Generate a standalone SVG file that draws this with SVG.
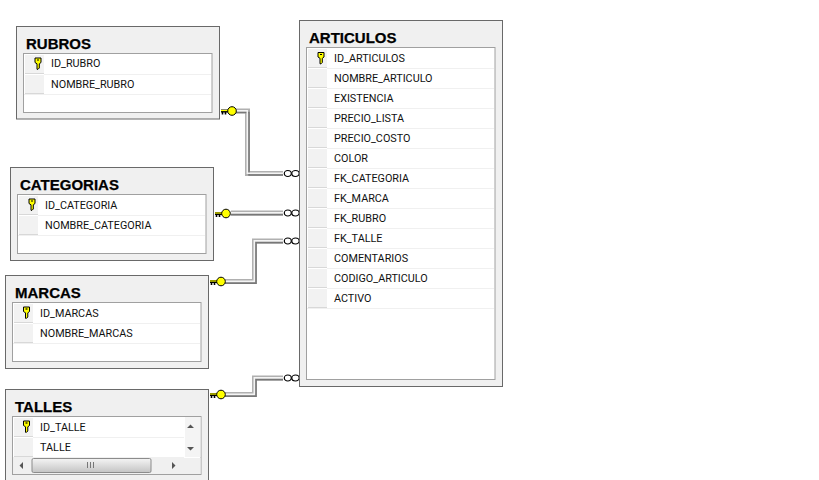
<svg xmlns="http://www.w3.org/2000/svg" width="819" height="480" viewBox="0 0 819 480">
<style>
.o{fill:#f0f0f0;stroke:#696969;stroke-width:1}
.i{fill:#fff;stroke:#a0a0a0;stroke-width:1}
.t{font:bold 15px "Liberation Sans",Arial,sans-serif;fill:#000;stroke:#000;stroke-width:.25}
.f{font:10.8px Roboto,"Liberation Sans",Arial,sans-serif;fill:#111}
.s{fill:#f2f2f2}
.sl{stroke:#d8d8d8;stroke-width:1;fill:none}
.r{stroke:#f0f0f0;stroke-width:1;fill:none}
.c1{fill:none;stroke:#b0b0b0;stroke-width:5}
.c2{fill:none;stroke:#f4f4f4;stroke-width:1.500}
.c3{fill:none;stroke:#777;stroke-width:1.500}
.ar{fill:#555}
</style>
<defs>
<g id="pk"><path d="M-3-5h6v4.500l-1.700 1.300v4.200l-1.300 1.300h-1v-5.500l-2-1.300z" fill="#ff0" stroke="#000" stroke-width="1"/><path d="M-1-3h2" stroke="#000" stroke-width="1.200"/></g>
<g id="key"><path d="M-11 0L-4 0" stroke="#000" stroke-width="3"/><path d="M-9.500 1v2.500M-6.500 1v2.500" stroke="#000" stroke-width="1.600"/><path d="M-11-.5L-4-.5" stroke="#ff0" stroke-width="1.200"/><circle cx="0" cy="0" r="4.300" fill="#ff0" stroke="#000" stroke-width="1"/></g>
<g id="inf"><ellipse cx="3.800" cy="0" rx="3.500" ry="3" fill="#fff" stroke="#000" stroke-width="1.200"/><ellipse cx="11.500" cy="0" rx="3.700" ry="3" fill="#fff" stroke="#000" stroke-width="1.200"/></g>
<g id="cell"><rect x="0" y="0" width="19" height="18.500" class="s"/><path d="M0 18.500h19" class="sl"/></g>
<linearGradient id="th" x1="0" y1="0" x2="0" y2="1"><stop offset="0" stop-color="#f4f4f4"/><stop offset=".5" stop-color="#dcdcdc"/><stop offset="1" stop-color="#c4c4c4"/></linearGradient>
</defs>
<rect width="819" height="480" fill="#fff"/>
<g id="connectors">
<path class="c1" d="M236 111H247.500V173.500H283"/><path class="c3" d="M236 112.500H249V175H283"/><path class="c2" d="M236 110.800H247.300V173.200H283"/>
<path class="c1" d="M231 213H283"/><path class="c3" d="M231 214.800H283"/><path class="c2" d="M231 212.800H283"/>
<path class="c1" d="M225 281.500H254.500V241H283"/><path class="c3" d="M225 283.200H256V242.800H283"/><path class="c2" d="M225 281.300H254.300V240.800H283"/>
<path class="c1" d="M225 394.500H254.500V378H283"/><path class="c3" d="M225 396.200H256V379.800H283"/><path class="c2" d="M225 394.300H254.300V377.800H283"/>
<use href="#key" x="232" y="111"/><use href="#key" x="226" y="213.500"/><use href="#key" x="221" y="281.500"/><use href="#key" x="221" y="394.500"/>
<use href="#inf" x="284" y="173.500"/><use href="#inf" x="284" y="213"/><use href="#inf" x="284" y="241"/><use href="#inf" x="284" y="378"/>
</g>
<g id="rubros">
<rect class="o" x="16.500" y="26.500" width="203" height="92.500"/><rect class="i" x="23.500" y="53.500" width="188.500" height="59"/>
<use href="#cell" x="25" y="55"/><use href="#cell" x="25" y="75"/><path class="r" d="M44 74.500H211M24 94.500H211"/>
<use href="#pk" x="38" y="63"/>
<text class="t" x="26" y="49">RUBROS</text><text class="f" x="51" y="67">ID_RUBRO</text><text class="f" x="51" y="88">NOMBRE_RUBRO</text>
</g>
<g id="categorias">
<rect class="o" x="10.500" y="167.500" width="203" height="93"/><rect class="i" x="17.500" y="194.500" width="188.500" height="59"/>
<use href="#cell" x="19" y="196"/><use href="#cell" x="19" y="216"/><path class="r" d="M38 215.500H205M18 235.500H205"/>
<use href="#pk" x="32" y="204"/>
<text class="t" x="20" y="190">CATEGORIAS</text><text class="f" x="45" y="209">ID_CATEGORIA</text><text class="f" x="45" y="229">NOMBRE_CATEGORIA</text>
</g>
<g id="marcas">
<rect class="o" x="5.500" y="275.500" width="203" height="93"/><rect class="i" x="12.500" y="302.500" width="188.500" height="59"/>
<use href="#cell" x="14" y="304"/><use href="#cell" x="14" y="324"/><path class="r" d="M33 323.500H200M13 343.500H200"/>
<use href="#pk" x="26.500" y="312"/>
<text class="t" x="15" y="298">MARCAS</text><text class="f" x="40" y="317">ID_MARCAS</text><text class="f" x="40" y="337">NOMBRE_MARCAS</text>
</g>
<g id="talles">
<rect class="o" x="5.500" y="389.500" width="203" height="95"/><rect class="i" x="12.500" y="416.500" width="188.500" height="58"/>
<use href="#cell" x="14" y="418"/><use href="#cell" x="14" y="438"/><path class="r" d="M33 437.500H184M13 457.500H184"/>
<rect x="185" y="417" width="15.500" height="40" fill="#f4f4f4"/><rect x="13" y="458" width="187.500" height="16" fill="#f0f0f0"/>
<path class="ar" d="M187 428h7l-3.500-3.500zM187 447h7l-3.500 3.500zM23 462v7l-3.500-3.500zM172 462v7l3.500-3.500z"/>
<rect x="32" y="458.500" width="119" height="14" rx="1.500" fill="url(#th)" stroke="#8c8c8c"/>
<path d="M87.500 462v6M90.500 462v6M93.500 462v6" stroke="#777"/>
<use href="#pk" x="26.500" y="426"/>
<text class="t" x="15" y="412">TALLES</text><text class="f" x="40" y="431">ID_TALLE</text><text class="f" x="40" y="451">TALLE</text>
</g>
<g id="articulos">
<rect class="o" x="299.500" y="20.500" width="203" height="366"/><rect class="i" x="306.500" y="47.500" width="188.500" height="332"/>
<use href="#cell" x="308" y="49"/><use href="#cell" x="308" y="69"/><use href="#cell" x="308" y="89"/><use href="#cell" x="308" y="109"/><use href="#cell" x="308" y="129"/><use href="#cell" x="308" y="149"/><use href="#cell" x="308" y="169"/><use href="#cell" x="308" y="189"/><use href="#cell" x="308" y="209"/><use href="#cell" x="308" y="229"/><use href="#cell" x="308" y="249"/><use href="#cell" x="308" y="269"/><use href="#cell" x="308" y="289"/>
<path class="r" d="M327 68.500H494M327 88.500H494M327 108.500H494M327 128.500H494M327 148.500H494M327 168.500H494M327 188.500H494M327 208.500H494M327 228.500H494M327 248.500H494M327 268.500H494M327 288.500H494M307 308.500H494"/>
<use href="#pk" x="321" y="57.500"/>
<text class="t" x="309" y="43">ARTICULOS</text>
<text class="f" x="334" y="62">ID_ARTICULOS</text><text class="f" x="334" y="82">NOMBRE_ARTICULO</text><text class="f" x="334" y="102">EXISTENCIA</text><text class="f" x="334" y="122">PRECIO_LISTA</text><text class="f" x="334" y="142">PRECIO_COSTO</text><text class="f" x="334" y="162">COLOR</text><text class="f" x="334" y="182">FK_CATEGORIA</text><text class="f" x="334" y="202">FK_MARCA</text><text class="f" x="334" y="222">FK_RUBRO</text><text class="f" x="334" y="242">FK_TALLE</text><text class="f" x="334" y="262">COMENTARIOS</text><text class="f" x="334" y="282">CODIGO_ARTICULO</text><text class="f" x="334" y="302">ACTIVO</text>
</g>
</svg>
